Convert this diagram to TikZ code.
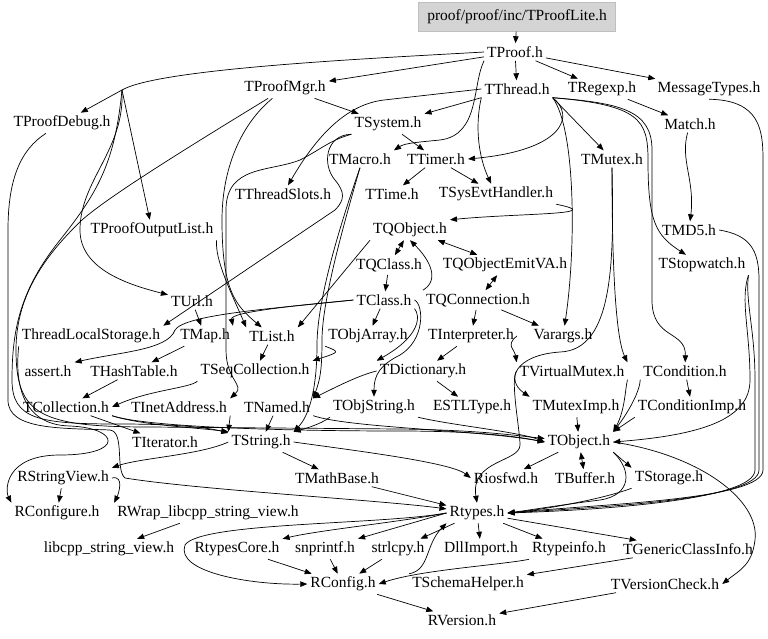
\documentclass[tikz,border=0pt]{standalone}
\usepackage{fontspec}
\setmainfont{Liberation Serif}
\usetikzlibrary{arrows.meta}
\begin{document}
\begin{tikzpicture}[x=1pt,y=-1pt,
  nd/.style={font=\fontsize{15.5}{18}\selectfont, inner sep=3pt},
  edg/.style={draw, line width=0.7pt, -{Triangle[length=7pt,width=5.5pt]}},
  ln/.style={draw, line width=0.7pt},
  bt/.style={draw, line width=0.7pt, {Triangle[length=7pt,width=5.5pt]}-{Triangle[length=7pt,width=5.5pt]}}]
\useasboundingbox (0,0) rectangle (768,638);
% nodes
\node[nd, fill=black!17, draw=black!25, minimum width=197pt, minimum height=29pt] (lite) at (517,17) {proof/proof/inc/TProofLite.h};
\node[nd] (proof) at (515,52) {TProof.h};
\node[nd] (proofmgr) at (285,88) {TProofMgr.h};
\node[nd] (thread) at (517,89) {TThread.h};
\node[nd] (regexp) at (602,89) {TRegexp.h};
\node[nd] (msg) at (709,89) {MessageTypes.h};
\node[nd] (proofdebug) at (62,123) {TProofDebug.h};
\node[nd] (tsystem) at (388,124) {TSystem.h};
\node[nd] (match) at (690,124) {Match.h};
\node[nd] (tmacro) at (360,159) {TMacro.h};
\node[nd] (ttimer) at (436,159) {TTimer.h};
\node[nd] (tmutex) at (612,159) {TMutex.h};
\node[nd] (threadslots) at (283,194) {TThreadSlots.h};
\node[nd] (ttime) at (392,194) {TTime.h};
\node[nd] (sysevt) at (496,194) {TSysEvtHandler.h};
\node[nd] (outputlist) at (152,230) {TProofOutputList.h};
\node[nd] (tqobject) at (410,230) {TQObject.h};
\node[nd] (md5) at (689,230) {TMD5.h};
\node[nd] (tqclass) at (389,265) {TQClass.h};
\node[nd] (emitva) at (505,265) {TQObjectEmitVA.h};
\node[nd] (stopwatch) at (702,265) {TStopwatch.h};
\node[nd] (turl) at (192,301) {TUrl.h};
\node[nd] (tclass) at (384,300) {TClass.h};
\node[nd] (tqconn) at (478,300) {TQConnection.h};
\node[nd] (tls) at (91,336) {ThreadLocalStorage.h};
\node[nd] (tmap) at (205,336) {TMap.h};
\node[nd] (tlist) at (272,336) {TList.h};
\node[nd] (tobjarray) at (368,336) {TObjArray.h};
\node[nd] (tinterp) at (471,336) {TInterpreter.h};
\node[nd] (varargs) at (563,336) {Varargs.h};
\node[nd] (assert) at (48,371) {assert.h};
\node[nd] (thash) at (134,371) {THashTable.h};
\node[nd] (tseqcoll) at (255,371) {TSeqCollection.h};
\node[nd] (tdict) at (423,371) {TDictionary.h};
\node[nd] (tvmutex) at (572,371) {TVirtualMutex.h};
\node[nd] (tcond) at (685,371) {TCondition.h};
\node[nd] (tcoll) at (66,407) {TCollection.h};
\node[nd] (tinet) at (179,407) {TInetAddress.h};
\node[nd] (tnamed) at (277,407) {TNamed.h};
\node[nd] (tobjstring) at (374,407) {TObjString.h};
\node[nd] (estl) at (472,407) {ESTLType.h};
\node[nd] (tmuteximp) at (576,407) {TMutexImp.h};
\node[nd] (tcondimp) at (692,407) {TConditionImp.h};
\node[nd] (titer) at (165,442) {TIterator.h};
\node[nd] (tstring) at (261,442) {TString.h};
\node[nd] (tobject) at (579,442) {TObject.h};
\node[nd] (rsv) at (63,478) {RStringView.h};
\node[nd] (tmathbase) at (337,478) {TMathBase.h};
\node[nd] (riosfwd) at (506,478) {Riosfwd.h};
\node[nd] (tbuffer) at (585,478) {TBuffer.h};
\node[nd] (tstorage) at (669,478) {TStorage.h};
\node[nd] (rconfigure) at (57,513) {RConfigure.h};
\node[nd] (rwrap) at (208,513) {RWrap\_libcpp\_string\_view.h};
\node[nd] (rtypes) at (477,513) {Rtypes.h};
\node[nd] (libcpp) at (109,549) {libcpp\_string\_view.h};
\node[nd] (rtypescore) at (237,549) {RtypesCore.h};
\node[nd] (snprintf) at (325,549) {snprintf.h};
\node[nd] (strlcpy) at (398,549) {strlcpy.h};
\node[nd] (dllimport) at (481,549) {DllImport.h};
\node[nd] (rtypeinfo) at (569,549) {Rtypeinfo.h};
\node[nd] (tgci) at (688,549) {TGenericClassInfo.h};
\node[nd] (rconfig) at (343,584) {RConfig.h};
\node[nd] (tschema) at (468,584) {TSchemaHelper.h};
\node[nd] (tversion) at (665,584) {TVersionCheck.h};
\node[nd] (rversion) at (462,620) {RVersion.h};
\coordinate (hubL) at (122,90);
% top edges
\draw[edg] (lite) -- (proof);
\draw[edg] (proof) -- (thread);
\draw[edg] (proof) -- (regexp);
\draw[edg] (proof) -- (msg);
\draw[edg] (proof) -- (proofmgr);
\draw[ln] (proof.west) .. controls (380,58) and (160,68) .. (hubL);
\draw[edg] (hubL) -- (proofdebug);
\draw[edg] (hubL) -- (outputlist);
\draw[edg] (hubL) .. controls (125,150) and (80,180) .. (80,230) .. controls (80,270) and (130,285) .. (turl);
\draw[edg] (hubL) .. controls (115,160) and (100,190) .. (60,240) .. controls (20,290) and (12,330) .. (12,380) .. controls (12,420) and (40,424) .. (120,424) .. controls (180,424) and (210,428) .. (tstring);
\draw[edg] (proofdebug) .. controls (20,150) and (8,180) .. (8,230) -- (8,400) .. controls (8,430) and (60,428) .. (110,430) .. controls (125,432) and (115,470) .. (125,478) .. controls (200,490) and (380,500) .. (rtypes);
\draw[edg] (proofmgr) -- (tsystem);
\draw[edg] (proofmgr) .. controls (200,140) and (110,195) .. (82,220) .. controls (40,260) and (16,300) .. (16,350) .. controls (16,415) and (40,427) .. (150,427) -- (400,429) .. controls (480,430) and (520,436) .. (tobject);
\draw[edg] (proofmgr) .. controls (240,125) and (222,170) .. (222,220) .. controls (222,290) and (235,305) .. (tlist);
\draw[edg] (thread.south west) -- (tsystem.north east);
\draw[edg] (thread.west) -- (384,100) .. controls (350,104) and (320,130) .. (threadslots);
\draw[edg] (proof.south west) .. controls (472,85) and (480,135) .. (440,140) .. controls (420,142) and (405,143) .. (tmacro.north east);
\draw[edg] (tsystem) -- (ttimer);
\draw[edg] (thread.south west) .. controls (474,130) and (480,160) .. (sysevt);
\draw[edg] (ttimer) -- (ttime);
\draw[edg] (ttimer) -- (sysevt);
\draw[edg] (thread.south east) .. controls (575,115) and (565,150) .. (ttimer.east);
\draw[edg] (thread.south east) -- (tmutex);
\draw[edg] (thread.south east) .. controls (576,130) and (576,250) .. (varargs);
\draw[edg] (thread.south east) .. controls (620,103) and (652,110) .. (652,150) -- (652,300) .. controls (652,340) and (686,330) .. (tcond);
\draw[edg] (thread.south east) .. controls (640,105) and (648,120) .. (648,160) .. controls (648,220) and (655,235) .. (stopwatch);
\draw[edg] (regexp) -- (match);
\draw[edg] (match) .. controls (680,160) and (695,180) .. (md5);
\draw[edg] (msg.south) .. controls (760,100) and (763,130) .. (763,160) -- (763,470) .. controls (763,500) and (600,504) .. (rtypes.east);
\draw[edg] (md5.east) .. controls (750,235) and (759,250) .. (759,280) -- (759,470) .. controls (759,500) and (600,507) .. (rtypes.east);
\draw[edg] (stopwatch.south east) .. controls (745,300) and (755,330) .. (755,380) -- (755,470) .. controls (755,500) and (600,510) .. (rtypes.east);
\draw[edg] (stopwatch.south east) .. controls (740,300) and (750,330) .. (750,380) .. controls (750,420) and (700,435) .. (tobject.east);
\draw[edg] (tmutex.south) .. controls (612,200) and (612,330) .. (tvmutex.north east);
\draw[edg] (tmutex.south) .. controls (614,260) and (614,350) .. (560,352) .. controls (515,355) and (505,380) .. (tmuteximp.north west);
\draw[edg] (sysevt.south east) .. controls (610,215) and (520,213) .. (tqobject.north east);
\draw[edg] (tsystem.south west) .. controls (325,135) and (322,165) .. (335,180) .. controls (345,192) and (345,200) .. (335,210) -- (tls.north east);
\draw[edg] (tsystem.south west) .. controls (330,140) and (320,150) .. (300,160) .. controls (270,172) and (226,165) .. (226,210) -- (226,350) .. controls (226,380) and (245,385) .. (tinet.north east);
% TQObject cluster
\draw[bt] (tqobject) -- (tqclass);
\draw[bt] (tqobject) -- (emitva);
\draw[bt] (emitva) -- (tqconn);
\draw[edg] (tqclass) -- (tclass);
\draw[edg] (tqconn.north west) .. controls (440,280) and (430,260) .. (tqobject.south);
\draw[edg] (tqconn) -- (tinterp);
\draw[edg] (tqconn) -- (varargs);
\draw[edg] (tqobject.south west) -- (tlist.north east);
\draw[edg] (tclass.west) .. controls (300,305) and (230,312) .. (tmap.north east);
\draw[edg] (tclass.west) .. controls (280,308) and (185,314) .. (175,330) .. controls (168,350) and (120,352) .. (assert.north east);
\draw[edg] (tclass) -- (tobjarray);
\draw[edg] (tclass.south east) .. controls (420,315) and (422,335) .. (tdict.north west);
\draw[edg] (tclass.east) .. controls (424,305) and (425,340) .. (400,355) .. controls (380,365) and (374,375) .. (tobjstring.north);
\draw[edg] (tmacro.south) .. controls (345,220) and (322,300) .. (322,340) .. controls (322,370) and (320,380) .. (tnamed.north east);
\draw[edg] (tmacro.south) .. controls (340,225) and (317,300) .. (317,345) .. controls (317,410) and (300,425) .. (tstring.north east);
\draw[edg] (outputlist.south east) .. controls (215,260) and (230,290) .. (tlist.north west);
\draw[edg] (turl) -- (tmap);
\draw[edg] (tmap) -- (thash);
\draw[edg] (thash) -- (tcoll);
\draw[edg] (tlist) -- (tseqcoll);
\draw[edg] (tobjarray.south west) .. controls (340,352) .. (tseqcoll.north east);
\draw[edg] (tseqcoll.south west) .. controls (190,388) and (150,390) .. (tcoll.east);
\draw[edg] (tcoll) -- (titer);
\draw[edg] (tcoll.south east) .. controls (140,425) and (200,428) .. (tstring.north west);
\draw[edg] (tcoll.south east) .. controls (150,428) and (300,431) .. (400,431) .. controls (480,431) and (520,437) .. (tobject.west);
\draw[edg] (tinet.south east) -- (tstring.north west);
\draw[edg] (tnamed) -- (tstring);
\draw[edg] (tnamed.south east) .. controls (350,428) and (480,430) .. (tobject.west);
\draw[edg] (tobjstring.south west) .. controls (320,425) and (300,430) .. (tstring.north east);
\draw[edg] (tobjstring.south east) .. controls (450,425) and (520,432) .. (tobject.west);
\draw[edg] (tdict.west) .. controls (360,375) and (340,385) .. (tnamed.north east);
\draw[edg] (tdict) -- (estl);
\draw[edg] (tinterp) -- (tdict);
\draw[edg] (tinterp.east) .. controls (505,345) and (515,350) .. (tvmutex.north west);
\draw[edg] (tvmutex.south east) .. controls (625,390) and (625,410) .. (tobject.north east);
\draw[edg] (tvmutex.west) .. controls (510,380) and (520,430) .. (520,445) .. controls (520,462) and (470,460) .. (rtypes.north);
\draw[edg] (tmuteximp) -- (tobject);
\draw[edg] (tcond) -- (tcondimp);
\draw[edg] (tcond.south west) .. controls (640,390) and (630,410) .. (tobject.north east);
\draw[edg] (tcondimp.south west) -- (tobject.north east);
% lower
\draw[edg] (tobject) -- (riosfwd);
\draw[bt] (tobject) -- (tbuffer);
\draw[edg] (tobject.south east) -- (tstorage.north west);
\draw[edg] (tobject.south east) .. controls (632,470) and (632,495) .. (600,500) .. controls (560,505) and (530,510) .. (rtypes.east);
\draw[edg] (tstorage.south west) .. controls (600,500) and (540,510) .. (rtypes.east);
\draw[edg] (tobject.east) .. controls (700,455) and (760,500) .. (755,540) .. controls (752,565) and (740,570) .. (tversion.east);
\draw[edg] (tstring.west) .. controls (200,455) and (140,458) .. (rsv.north east);
\draw[edg] (tstring) -- (tmathbase);
\draw[edg] (tstring.east) .. controls (350,450) and (450,462) .. (riosfwd.west);
\draw[edg] (tmathbase) -- (rtypes);
\draw[edg] (rsv) -- (rconfigure);
\draw[edg] (rsv.east) .. controls (125,475) and (118,495) .. (rwrap.north west);
\draw[edg] (rwrap) -- (libcpp);
\draw[edg] (tls.south west) .. controls (15,380) and (20,425) .. (70,426) .. controls (120,428) and (125,455) .. (60,455) .. controls (5,455) and (5,490) .. (rconfigure.north west);
\draw[edg] (rtypes.west) .. controls (400,522) and (320,530) .. (rtypescore.north east);
\draw[edg] (rtypes.west) .. controls (380,525) and (200,522) .. (185,545) .. controls (175,572) and (250,585) .. (rconfig.west);
\draw[edg] (rtypes.west) -- (snprintf.north east);
\draw[edg] (rtypes) -- (strlcpy);
\draw[edg] (rtypes) -- (dllimport);
\draw[edg] (rtypes) -- (rtypeinfo);
\draw[edg] (rtypes) -- (tgci);
\draw[edg] (rtypescore) -- (rconfig);
\draw[edg] (snprintf) -- (rconfig);
\draw[edg] (strlcpy) -- (rconfig);
\draw[edg] (rtypeinfo.south west) .. controls (500,565) and (420,570) .. (rconfig.east);
\draw[edg] (tgci) -- (tschema);
\draw[edg] (tschema.north west) .. controls (430,570) and (425,545) .. (rtypes.south west);
\draw[edg] (rconfig) -- (rversion);
\draw[edg] (tversion) -- (rversion);
\end{tikzpicture}
\end{document}
